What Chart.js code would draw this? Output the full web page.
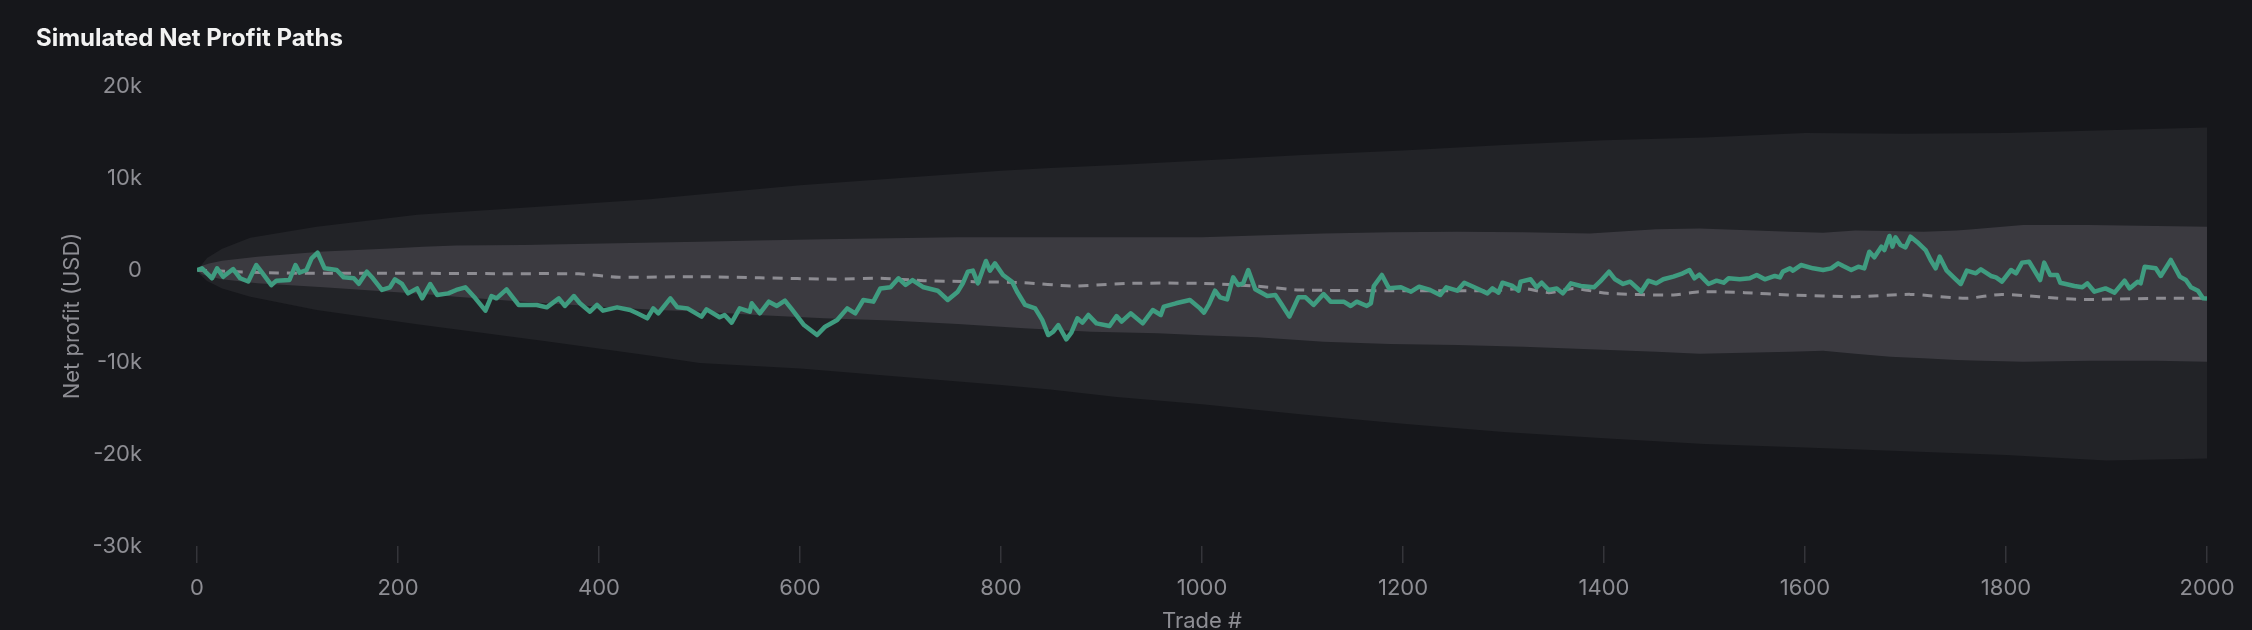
<!DOCTYPE html>
<html>
<head>
<meta charset="utf-8">
<script src="https://cdn.jsdelivr.net/npm/chart.js@4.4.1/dist/chart.umd.min.js"></script>
<style>
html,body{margin:0;padding:0;background:#16171b;overflow:hidden}
canvas{display:block}
</style>
</head>
<body>
<canvas id="c" width="2252" height="630"></canvas>
<script>
// ---- data (USD) ----
const xTickValues = [0,200,400,600,800,1000,1200,1400,1600,1800,2000];
const xTickLabels = ['0','200','400','600','800','1000','1200','1400','1600','1800','2000'];
const yTickValues = [20000,10000,0,-10000,-20000,-30000];
const yTickLabels = ['20k','10k','0','-10k','-20k','-30k'];

const pathTrades = [0,5,15,20,26,36,43,51,59,64,74,79,92,98,102,109,114,120,127,139,146,156,161,169,175,184,192,197,204,210,219,224,232,239,250,258,267,277,287,293,298,308,320,338,348,360,366,375,381,391,398,404,418,431,438,448,454,459,471,478,488,502,507,520,525,532,540,550,552,560,569,577,585,592,604,617,625,637,647,655,663,673,680,690,698,705,712,723,737,747,757,762,767,772,777,785,789,794,802,811,816,824,834,841,847,852,857,865,870,876,881,887,895,908,915,920,929,941,951,959,962,974,988,998,1002,1007,1013,1018,1025,1031,1036,1041,1046,1053,1065,1073,1079,1087,1096,1103,1111,1121,1128,1141,1148,1154,1164,1168,1171,1179,1186,1198,1208,1216,1227,1237,1243,1254,1261,1271,1284,1289,1295,1299,1309,1315,1317,1327,1333,1338,1345,1353,1359,1367,1377,1390,1396,1405,1411,1419,1426,1437,1444,1452,1459,1469,1477,1485,1490,1495,1504,1512,1519,1524,1535,1545,1552,1560,1570,1575,1578,1585,1588,1596,1608,1618,1626,1633,1638,1646,1653,1659,1664,1669,1676,1679,1684,1687,1690,1695,1700,1705,1713,1720,1725,1730,1734,1741,1750,1755,1761,1770,1775,1785,1790,1796,1805,1810,1816,1823,1828,1834,1838,1844,1851,1854,1868,1876,1881,1888,1899,1908,1918,1923,1931,1934,1938,1949,1954,1964,1973,1979,1984,1991,1996,2000];
const pathProfit = [0,180,-900,180,-740,100,-900,-1250,540,-180,-1650,-1160,-1090,540,-290,0,1270,1880,180,0,-800,-900,-1500,-180,-900,-2170,-1880,-1010,-1520,-2540,-2000,-3080,-1520,-2720,-2540,-2170,-1880,-3080,-4420,-2830,-3080,-2100,-3800,-3800,-4060,-3080,-3910,-2830,-3620,-4530,-3800,-4420,-4060,-4350,-4710,-5250,-4170,-4710,-3080,-4060,-4170,-5070,-4280,-5140,-4890,-5720,-4170,-4530,-3620,-4710,-3440,-3910,-3330,-4280,-5980,-7070,-6160,-5430,-4170,-4710,-3260,-3440,-2000,-1880,-900,-1630,-1090,-1880,-2250,-3260,-2360,-1450,-180,-70,-1450,980,-70,720,-540,-1270,-2360,-3800,-4170,-5430,-7070,-6700,-5980,-7540,-6810,-5250,-5720,-4890,-5800,-6090,-5000,-5610,-4710,-5800,-4350,-4890,-3980,-3620,-3260,-4170,-4640,-3700,-2250,-2970,-3190,-800,-1630,-1450,0,-2100,-2830,-2720,-3700,-5070,-2970,-2970,-3800,-2610,-3440,-3440,-3910,-3440,-3910,-3620,-1740,-540,-1990,-1880,-2360,-1810,-2170,-2720,-1880,-2250,-1380,-1880,-2540,-2000,-2460,-1380,-1740,-2250,-1270,-1010,-1880,-1380,-2170,-2000,-2540,-1450,-1740,-1880,-1270,-180,-1010,-1520,-1270,-2360,-1160,-1450,-1010,-720,-430,0,-900,-500,-1520,-1160,-1380,-900,-1010,-900,-540,-1010,-650,-800,-180,180,-70,540,180,0,180,720,430,0,360,180,1990,1380,2540,2170,3700,2540,3550,2720,2460,3620,2900,2170,1090,180,1450,-70,-1010,-1520,-70,-360,70,-650,-800,-1270,0,-360,800,900,0,-1090,800,-540,-540,-1380,-1740,-1880,-1450,-2360,-2000,-2460,-1160,-2000,-1270,-1450,360,180,-650,1090,-720,-1090,-1880,-2250,-3080,-3100];

const medianTrades = [0,30,80,200,300,380,420,500,560,635,680,723,823,870,930,1000,1053,1097,1200,1290,1320,1345,1370,1403,1469,1495,1540,1585,1650,1705,1760,1796,1870,1950,2000];
const medianProfit = [0,-150,-330,-350,-400,-420,-780,-720,-850,-1000,-900,-1160,-1380,-1740,-1450,-1450,-1740,-2170,-2250,-2250,-2000,-2460,-2000,-2540,-2720,-2360,-2460,-2720,-2900,-2650,-3080,-2650,-3190,-3080,-3080];

const innerTrades = [0,5,12,25,60,126,192,225,258,325,391,458,500,557,624,690,757,823,890,956,1000,1055,1121,1187,1254,1320,1386,1452,1495,1585,1618,1650,1685,1718,1751,1767,1817,1883,1950,2000];
const innerUpper = [0,450,700,1000,1450,2000,2350,2540,2650,2720,2850,3000,3080,3200,3330,3450,3550,3550,3550,3550,3550,3750,3980,4100,4170,4100,3980,4420,4500,4170,4060,4280,4250,4170,4300,4420,4890,4890,4780,4710];
const innerLower = [0,-450,-700,-1000,-1450,-1880,-2360,-2600,-2900,-3440,-3910,-4350,-4500,-4890,-5250,-5500,-5870,-6340,-6700,-6880,-7100,-7320,-7790,-8040,-8150,-8330,-8620,-8880,-9100,-8880,-8770,-9100,-9420,-9600,-9780,-9850,-9960,-9860,-9860,-9960];

const outerTrades = [0,3,10,25,53,119,219,351,450,500,600,700,800,849,915,1000,1100,1200,1300,1400,1500,1600,1700,1800,1900,2000];
const outerUpper = [0,360,1300,2300,3500,4700,6000,6960,7700,8200,9200,10000,10800,11100,11400,11900,12500,13000,13600,14100,14400,14900,14800,14900,15200,15500];
const outerLower = [0,-500,-1200,-2000,-2900,-4350,-5900,-7800,-9300,-10100,-10700,-11600,-12500,-13000,-13800,-14600,-15700,-16700,-17600,-18300,-18900,-19300,-19700,-20100,-20700,-20500];

// ---- build ----
const pts = (xs, ys) => xs.map((x, i) => ({x: x, y: ys[i]}));
const FONT = 'Inter, "Noto Sans", sans-serif';
const GREY = '#8e8e94';

const band = (data, color, fill) => ({
  data: data, borderWidth: 0, borderColor: 'rgba(0,0,0,0)', backgroundColor: color,
  pointRadius: 0, fill: fill, tension: 0
});

new Chart(document.getElementById('c'), {
  type: 'line',
  data: {
    datasets: [
      { data: pts(pathTrades, pathProfit), borderColor: '#3f9c80', borderWidth: 4.5, pointRadius: 0, fill: false, tension: 0, borderJoinStyle: 'round' },
      { data: pts(medianTrades, medianProfit), borderColor: '#8d8c92', borderWidth: 3, borderDash: [10, 8], pointRadius: 0, fill: false, tension: 0.2 },
      band(pts(innerTrades, innerUpper), '#3b3a40', '+1'),
      band(pts(innerTrades, innerLower), '#3b3a40', false),
      band(pts(outerTrades, outerUpper), '#222327', '+1'),
      band(pts(outerTrades, outerLower), '#222327', false)
    ]
  },
  options: {
    responsive: false,
    devicePixelRatio: 1,
    animation: false,
    events: [],
    layout: { padding: { left: 36, right: 45, top: 0, bottom: 0 } },
    plugins: {
      legend: { display: false },
      tooltip: { enabled: false },
      title: {
        display: true, text: 'Simulated Net Profit Paths', align: 'start',
        color: '#f2f2f2', font: { family: FONT, size: 24, weight: 'bold' },
        padding: { top: 24.1, bottom: 33.1 }
      }
    },
    scales: {
      x: {
        type: 'linear', min: 0, max: 2000,
        afterBuildTicks: s => { s.ticks = xTickValues.map(v => ({value: v})); },
        afterFit: s => { s.height = 84; },
        ticks: { color: GREY, font: { family: FONT, size: 22 }, padding: 12, maxRotation: 0, autoSkip: false,
          callback: v => { const i = xTickValues.indexOf(v); return i >= 0 ? xTickLabels[i] : ''; } },
        grid: { display: true, drawOnChartArea: false, drawTicks: true, tickLength: 17, color: '#34353a', lineWidth: 1.5 },
        border: { display: false },
        title: { display: true, text: 'Trade #', color: GREY, font: { family: FONT, size: 22 }, padding: { top: 0, bottom: -5 } }
      },
      y: {
        type: 'linear', min: -30000, max: 20000,
        afterBuildTicks: s => { s.ticks = yTickValues.map(v => ({value: v})); },
        afterFit: s => { s.width = 161; },
        ticks: { color: GREY, font: { family: FONT, size: 22 }, padding: 47,
          callback: v => { const i = yTickValues.indexOf(v); return i >= 0 ? yTickLabels[i] : ''; } },
        grid: { display: false },
        border: { display: false },
        title: { display: true, text: 'Net profit (USD)', color: GREY, font: { family: FONT, size: 22 }, padding: { top: 23, bottom: 0 } }
      }
    }
  }
});
</script>
</body>
</html>
